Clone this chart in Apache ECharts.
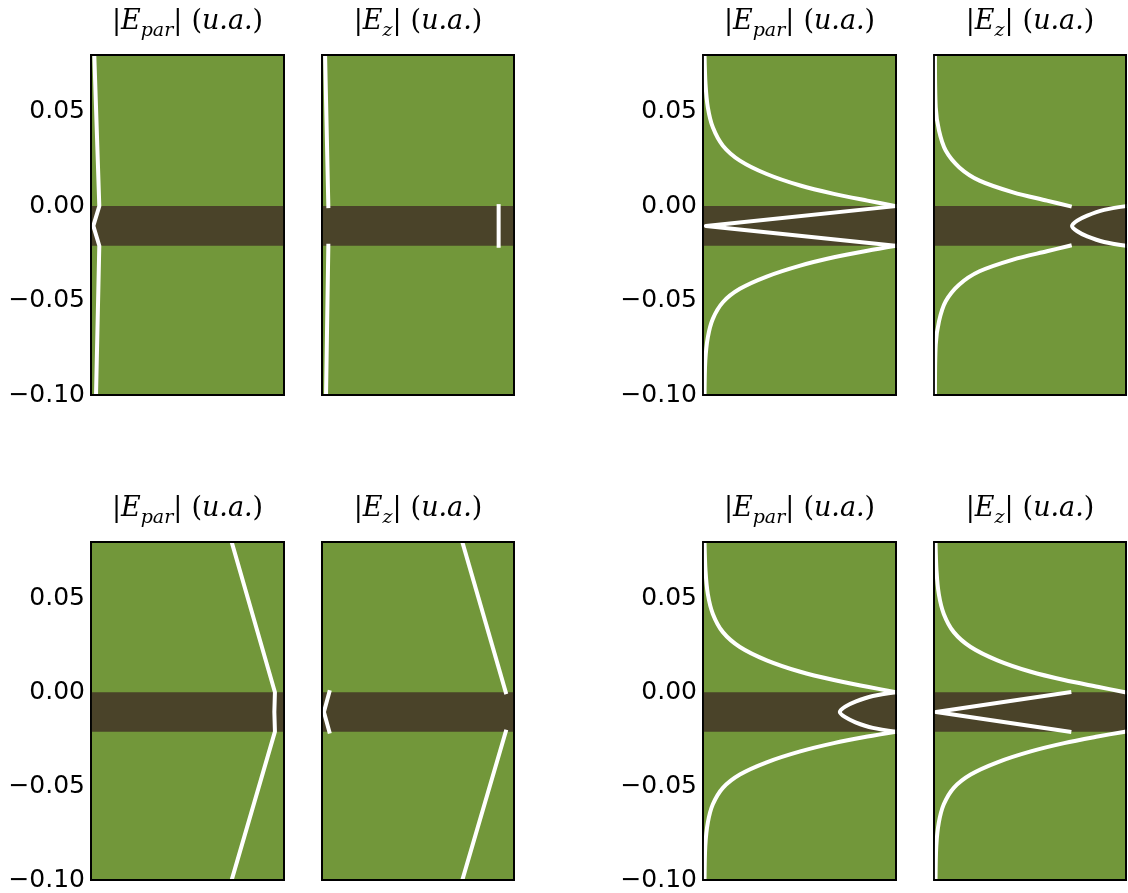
<!DOCTYPE html>
<html>
<head>
<meta charset="utf-8">
<script src="https://cdn.jsdelivr.net/npm/echarts@6/dist/echarts.min.js"></script>
<style>
  html, body { margin: 0; padding: 0; background: #ffffff; }
  #chart { width: 1128px; height: 893px; }
</style>
</head>
<body>
<div id="chart"></div>
<script>
// Position across the structure (vertical axis) and its tick labels
const yMin = -0.10;
const yMax = 0.08;
const yStep = 0.05;
const yTickLabels = ['−0.10', '−0.05', '0.00', '0.05'];

// Extent of the thin layer (dark band)
const layerTop = 0.0;
const layerBottom = -0.021;

// Field magnitudes [|E| (u.a.), position], ordered from top to bottom.
// Upper row, first pair
const parA = [[0.017, 0.08], [0.043, 0.0], [0.012, -0.0105], [0.043, -0.021], [0.026, -0.10]];
const zA_above = [[0.016, 0.08], [0.033, 0.0]];
const zA_layer = [[0.920, 0.0], [0.920, -0.021]];
const zA_below = [[0.033, -0.021], [0.021, -0.10]];

// Upper row, second pair
const parB_above = [[0.008, 0.08], [0.013, 0.0647], [0.025, 0.0523], [0.051, 0.0417], [0.103, 0.0320], [0.191, 0.0241],
  [0.330, 0.0170], [0.504, 0.0109], [0.678, 0.0065], [0.852, 0.0029], [1.0, 0.0]];
const parB_layer = [[1.0, 0.0], [0.015, -0.0105], [1.0, -0.021]];
const parB_below = [[1.0, -0.021], [0.852, -0.0236], [0.678, -0.0271], [0.504, -0.0315], [0.330, -0.0373], [0.191, -0.0438],
  [0.103, -0.0509], [0.051, -0.0597], [0.025, -0.0695], [0.012, -0.0818], [0.008, -0.10]];
const zB_above = [[0.005, 0.08], [0.009, 0.0523], [0.026, 0.040], [0.061, 0.0294], [0.132, 0.0205], [0.237, 0.0135],
  [0.412, 0.0073], [0.588, 0.0029], [0.707, 0.0]];
const zB_layer = [[1.0, 0.0], [0.886, -0.002], [0.798, -0.005], [0.746, -0.0077], [0.719, -0.0105],
  [0.746, -0.0133], [0.798, -0.016], [0.886, -0.019], [1.0, -0.021]];
const zB_below = [[0.707, -0.021], [0.588, -0.0239], [0.412, -0.0283], [0.237, -0.0345], [0.132, -0.0415],
  [0.061, -0.0504], [0.026, -0.061], [0.009, -0.0733], [0.005, -0.10]];

// Lower row, first pair
const parC = [[0.729, 0.08], [0.953, 0.0], [0.950, -0.0105], [0.953, -0.021], [0.729, -0.10]];
const zC_above = [[0.731, 0.08], [0.957, 0.0]];
const zC_layer = [[0.038, 0.0], [0.010, -0.0105], [0.038, -0.021]];
const zC_below = [[0.957, -0.021], [0.731, -0.10]];

// Lower row, second pair
const parD_above = [[0.008, 0.08], [0.013, 0.0647], [0.025, 0.0523], [0.051, 0.0417], [0.103, 0.0320], [0.191, 0.0241],
  [0.330, 0.0170], [0.504, 0.0109], [0.678, 0.0065], [0.852, 0.0029], [1.0, 0.0]];
const parD_layer = [[1.0, 0.0], [0.880, -0.002], [0.790, -0.005], [0.737, -0.0077], [0.709, -0.0105],
  [0.737, -0.0133], [0.790, -0.016], [0.880, -0.019], [1.0, -0.021]];
const parD_below = [[1.0, -0.021], [0.852, -0.0236], [0.678, -0.0271], [0.504, -0.0315], [0.330, -0.0373], [0.191, -0.0438],
  [0.103, -0.0509], [0.051, -0.0597], [0.025, -0.0695], [0.012, -0.0818], [0.008, -0.10]];
const zD_above = [[0.008, 0.08], [0.013, 0.0647], [0.025, 0.0523], [0.051, 0.0417], [0.103, 0.0320], [0.191, 0.0241],
  [0.330, 0.0170], [0.504, 0.0109], [0.678, 0.0065], [0.852, 0.0029], [0.995, 0.0]];
const zD_layer = [[0.705, 0.0], [0.010, -0.0105], [0.705, -0.021]];
const zD_below = [[0.995, -0.021], [0.852, -0.0236], [0.678, -0.0271], [0.504, -0.0315], [0.330, -0.0373], [0.191, -0.0438],
  [0.103, -0.0509], [0.051, -0.0597], [0.025, -0.0695], [0.012, -0.0818], [0.008, -0.10]];

// Panels in reading order; each holds its curve segments (smooth: drawn as a curve)
const panels = [
  { kind: 'par', curves: [{ data: parA }] },
  { kind: 'z',   curves: [{ data: zA_above }, { data: zA_layer }, { data: zA_below }] },
  { kind: 'par', curves: [{ data: parB_above, smooth: true }, { data: parB_layer }, { data: parB_below, smooth: true }] },
  { kind: 'z',   curves: [{ data: zB_above, smooth: true }, { data: zB_layer, smooth: true }, { data: zB_below, smooth: true }] },
  { kind: 'par', curves: [{ data: parC }] },
  { kind: 'z',   curves: [{ data: zC_above }, { data: zC_layer }, { data: zC_below }] },
  { kind: 'par', curves: [{ data: parD_above, smooth: true }, { data: parD_layer, smooth: true }, { data: parD_below, smooth: true }] },
  { kind: 'z',   curves: [{ data: zD_above, smooth: true }, { data: zD_layer }, { data: zD_below, smooth: true }] }
];

// Layout of the 2 x 4 panel grid (pixels)
const colLefts = [91, 322, 703, 934];
const colWidths = [193, 192, 193, 192];
const rowTops = [55, 542];
const rowHeights = [340, 338];

const bgGreen = '#72973a';
const layerBrown = '#4a4329';
const frameColor = '#000000';
const curveColor = '#ffffff';

const mathFont = 'DejaVu Serif';
const titleRich = {
  r: { fontFamily: mathFont, fontSize: 27, color: '#000', lineHeight: 38 },
  g: { fontFamily: mathFont, fontSize: 27, color: '#000', lineHeight: 38, padding: [0, 0, 0, 9] },
  i: { fontFamily: mathFont, fontSize: 27, fontStyle: 'italic', color: '#000', lineHeight: 38 },
  s: { fontFamily: mathFont, fontSize: 19, fontStyle: 'italic', color: '#000', lineHeight: 20, verticalAlign: 'bottom' }
};
const titles = {
  par: '{r||}{i|E}{s|par}{r||}{g|(}{i|u.a.}{r|)}',
  z: '{r||}{i|E}{s|z}{r||}{g|(}{i|u.a.}{r|)}'
};

function tickLabel(v) {
  const k = Math.round((v - yMin) / yStep);
  if (Math.abs(yMin + k * yStep - v) > 1e-6) return '';
  return yTickLabels[k] || '';
}

const grids = [], xAxes = [], yAxes = [], series = [];
const frameLine = { show: true, onZero: false, lineStyle: { color: frameColor, width: 1.8 } };

panels.forEach((p, idx) => {
  const row = Math.floor(idx / 4), col = idx % 4;
  grids.push({
    left: colLefts[col], top: rowTops[row], width: colWidths[col], height: rowHeights[row],
    show: true, backgroundColor: bgGreen, borderColor: frameColor, borderWidth: 1.8,
    containLabel: false
  });
  const g = idx;
  // bottom and top x axes (frame + panel title)
  xAxes.push({
    gridIndex: g, type: 'value', min: 0, max: 1, position: 'bottom', z: 5,
    axisLine: frameLine, axisTick: { show: false }, axisLabel: { show: false }, splitLine: { show: false }
  });
  xAxes.push({
    gridIndex: g, type: 'value', min: 0, max: 1, position: 'top', z: 5,
    axisLine: frameLine, axisTick: { show: false }, axisLabel: { show: false }, splitLine: { show: false },
    name: titles[p.kind], nameLocation: 'middle', nameGap: 14,
    nameTextStyle: { rich: titleRich }
  });
  // left and right y axes
  const showLabels = (col === 0 || col === 2);
  yAxes.push({
    gridIndex: g, type: 'value', min: yMin, max: yMax, interval: yStep, position: 'left', z: 5,
    axisLine: frameLine, axisTick: { show: false }, splitLine: { show: false },
    axisLabel: {
      show: showLabels, showMaxLabel: false, margin: 6, formatter: tickLabel,
      fontFamily: 'DejaVu Sans', fontSize: 25, color: '#000'
    }
  });
  yAxes.push({
    gridIndex: g, type: 'value', min: yMin, max: yMax, interval: yStep, position: 'right', z: 5,
    axisLine: frameLine, axisTick: { show: false }, axisLabel: { show: false }, splitLine: { show: false }
  });
  // the layer band
  series.push({
    type: 'line', xAxisIndex: 2 * g, yAxisIndex: 2 * g, data: [], z: 1, silent: true,
    markArea: {
      silent: true,
      itemStyle: { color: layerBrown, opacity: 1 },
      data: [[{ yAxis: layerTop }, { yAxis: layerBottom }]]
    }
  });
  // field curves
  p.curves.forEach(c => {
    series.push({
      type: 'line', xAxisIndex: 2 * g, yAxisIndex: 2 * g, data: c.data, z: 3,
      showSymbol: false, symbol: 'none', silent: true, clip: true,
      smooth: c.smooth ? 0.3 : false,
      lineStyle: { color: curveColor, width: 4, cap: 'square', join: 'round' }
    });
  });
});

const chart = echarts.init(document.getElementById('chart'), null, { renderer: 'canvas' });
chart.setOption({
  animation: false,
  backgroundColor: '#ffffff',
  grid: grids,
  xAxis: xAxes,
  yAxis: yAxes,
  series: series
});
</script>
</body>
</html>
